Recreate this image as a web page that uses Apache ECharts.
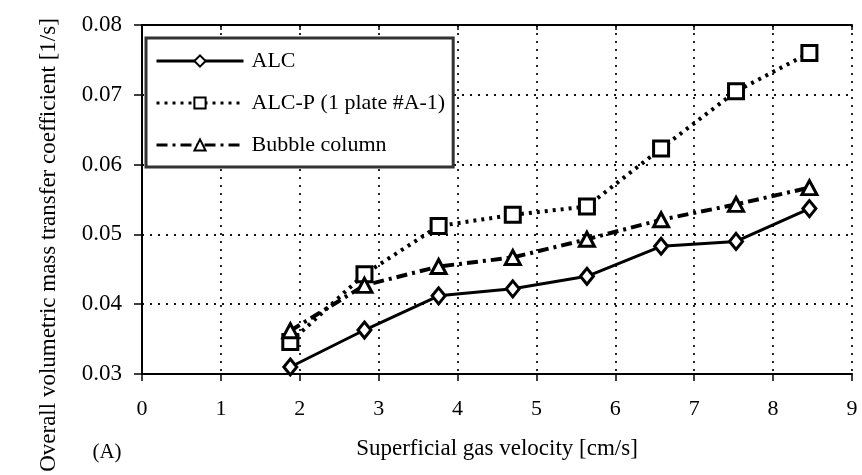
<!DOCTYPE html>
<html>
<head>
<meta charset="utf-8">
<script src="https://cdn.jsdelivr.net/npm/echarts@6/dist/echarts.min.js"></script>
<style>
html,body{margin:0;padding:0;background:#fff;}
#chart{width:862px;height:475px;}
</style>
</head>
<body>
<div id="chart"></div>
<script>
var xValues = [1.88, 2.82, 3.76, 4.70, 5.64, 6.58, 7.53, 8.46];
var alc = [0.0310, 0.0363, 0.0412, 0.0422, 0.0440, 0.0483, 0.0490, 0.0537];
var alcP = [0.0346, 0.0443, 0.0512, 0.0528, 0.0540, 0.0623, 0.0705, 0.0760];
var bubble = [0.0362, 0.0427, 0.0454, 0.0467, 0.0493, 0.0521, 0.0543, 0.0567];
var seriesNames = ['ALC', 'ALC-P (1 plate #A-1)', 'Bubble column'];
var xTitle = 'Superficial gas velocity [cm/s]';
var yTitle = 'Overall volumetric mass transfer coefficient [1/s]';
var panelLabel = '(A)';

function pairs(ys){ return xValues.map(function(x,i){ return [x, ys[i]]; }); }

var FONT = '"Liberation Serif", "DejaVu Serif", serif';
var chart = echarts.init(document.getElementById('chart'), null, {renderer:'canvas'});
var gridLine = {show:true, lineStyle:{color:'#111', type:[2,6], width:1.8}};
chart.setOption({
  animation:false,
  backgroundColor:'#fff',
  grid:{left:142, right:10, top:25, bottom:101},
  xAxis:[{
    type:'value', min:0, max:9, interval:1,
    axisLine:{show:true, onZero:false, lineStyle:{color:'#000', width:2}},
    axisTick:{show:true, inside:false, length:7, lineStyle:{color:'#000', width:1.5}},
    axisLabel:{fontFamily:FONT, fontSize:22, color:'#000', margin:24},
    splitLine:gridLine,
    name:xTitle, nameLocation:'middle', nameGap:63,
    nameTextStyle:{fontFamily:FONT, fontSize:23, color:'#000'}
  },{
    type:'value', min:0, max:9, interval:1, position:'top',
    axisLine:{show:true, lineStyle:{color:'#000', width:2}},
    axisTick:{show:true, inside:true, length:5, lineStyle:{color:'#000', width:1.5}},
    axisLabel:{show:false}, splitLine:{show:false}
  }],
  yAxis:[{
    type:'value', min:0.03, max:0.08, interval:0.01,
    axisLine:{show:true, onZero:false, lineStyle:{color:'#000', width:2}},
    axisTick:{show:true, inside:false, length:8, lineStyle:{color:'#000', width:1.5}},
    axisLabel:{fontFamily:FONT, fontSize:23, color:'#000', margin:20,
      formatter:function(v){ return v.toFixed(2); }},
    splitLine:gridLine
  },{
    type:'value', min:0.03, max:0.08, interval:0.01, position:'right',
    axisLine:{show:true, lineStyle:{color:'#000', width:2}},
    axisTick:{show:false}, axisLabel:{show:false}, splitLine:{show:false}
  }],
  legend:{
    left:146, top:38, orient:'vertical',
    padding:[12,8,11,9],
    itemWidth:87, itemHeight:14, itemGap:20,
    borderColor:'#333', borderWidth:3,
    backgroundColor:'#fff',
    lineStyle:{width:3},
    textStyle:{fontFamily:FONT, fontSize:22, color:'#000', padding:[0,0,0,3]},
    data:seriesNames
  },
  series:[{
    name:seriesNames[0], type:'line', data:pairs(alc),
    symbol:'diamond', symbolSize:[13,16], showSymbol:true,
    lineStyle:{color:'#000', width:3, type:'solid'},
    itemStyle:{color:'#fff', borderColor:'#000', borderWidth:3},
    z:3
  },{
    name:seriesNames[1], type:'line', data:pairs(alcP),
    symbol:'rect', symbolSize:15,
    lineStyle:{color:'#000', width:4, type:[3,5]},
    itemStyle:{color:'#fff', borderColor:'#000', borderWidth:3},
    z:3
  },{
    name:seriesNames[2], type:'line', data:pairs(bubble),
    symbol:'triangle', symbolSize:[15,14],
    lineStyle:{color:'#000', width:4, type:[11,5,3,5]},
    itemStyle:{color:'#fff', borderColor:'#000', borderWidth:3},
    z:3
  }],
  graphic:[{
    type:'text', x:49, y:245, rotation:Math.PI/2,
    style:{text:yTitle, font:'23px ' + FONT, fill:'#000', textAlign:'center', textVerticalAlign:'middle'}
  },{
    type:'text', x:107, y:452,
    style:{text:panelLabel, font:'21px ' + FONT, fill:'#000', textAlign:'center', textVerticalAlign:'middle'}
  }]
});
</script>
</body>
</html>
